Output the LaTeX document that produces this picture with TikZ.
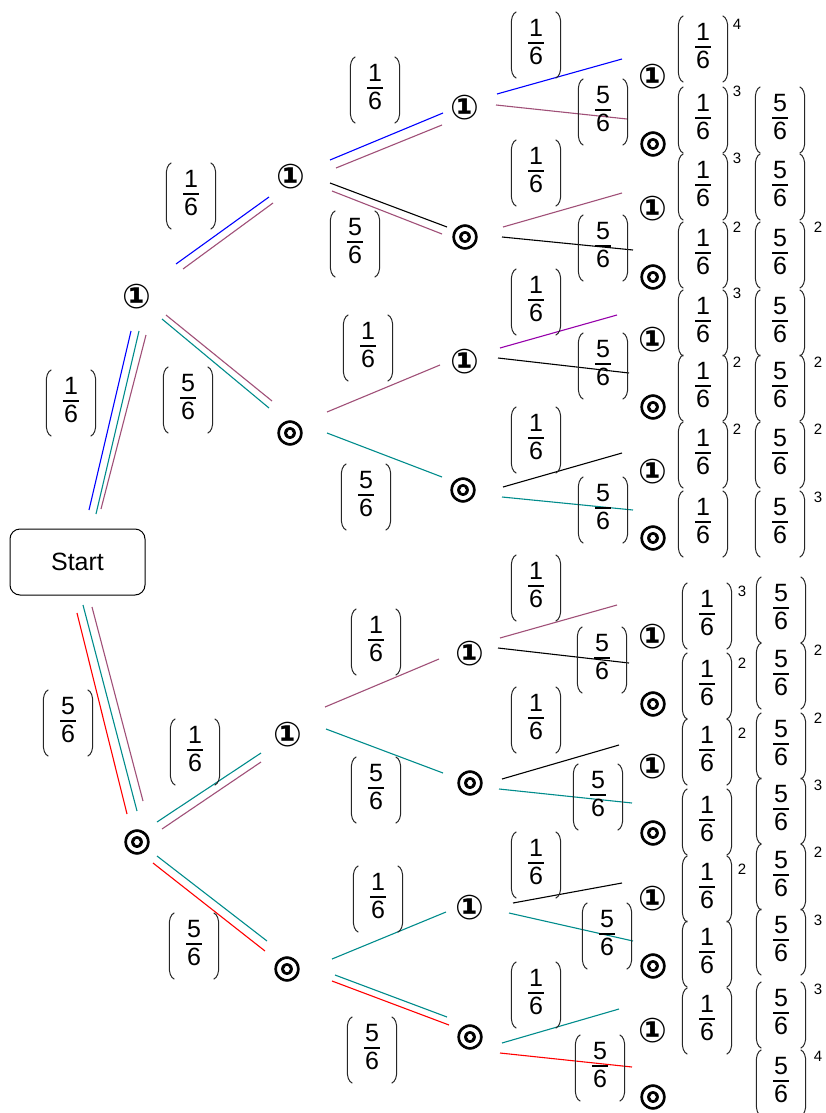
\documentclass[tikz,border=0pt]{standalone}
\usepackage{fontspec}
\setmainfont{Liberation Sans}
\newfontfamily\symfont{DejaVu Sans}
\newfontfamily\ringfont{DejaVu Sans}[FakeBold=2.5]
\usetikzlibrary{calc}
\definecolor{cteal}{RGB}{0,140,140}
\definecolor{cmauve}{RGB}{160,80,120}
\definecolor{cpurple}{RGB}{150,0,170}
\definecolor{cblue}{RGB}{0,0,255}
\definecolor{cred}{RGB}{255,0,0}
\setlength{\arrayrulewidth}{1.2pt}
\newcommand\myfr[2]{\begin{tabular}{@{\kern1pt}c@{\kern1pt}}#1\\[-3pt]\hline\noalign{\vskip1pt}#2\end{tabular}}
\newcommand\one{{\symfont\bfseries ①}}
\newcommand\ring{{\ringfont\fontsize{32}{36}\selectfont ◎}}
\tikzset{
 fracbox/.style={inner sep=0pt, minimum width=49pt, minimum height=66pt, font=\fontsize{25}{29}\selectfont},
 paren/.style={line width=1pt, black!85},
 sym/.style={inner sep=0pt, font=\fontsize{34}{38}\selectfont},
 supnum/.style={inner sep=0pt, font=\fontsize{15}{17}\selectfont},
 edge/.style={line width=1.1pt},
 startbox/.style={draw, rounded corners=10pt, line width=1pt, minimum width=135pt, minimum height=66pt, font=\fontsize{25}{30}\selectfont}
}
\newcommand\plab[4]{%
 \node[fracbox] (#1) at (#2,#3) {\myfr{#4}{6}};
 \draw[paren] ($(#1.north west)+(5,0)$) .. controls ($(#1.north west)+(1,2)$) and ($(#1.north west)+(0,7)$) .. ($(#1.north west)+(0,12)$) -- ($(#1.south west)+(0,-12)$) .. controls ($(#1.south west)+(0,-7)$) and ($(#1.south west)+(1,-2)$) .. ($(#1.south west)+(5,0)$);
 \draw[paren] ($(#1.north east)+(-5,0)$) .. controls ($(#1.north east)+(-1,2)$) and ($(#1.north east)+(0,7)$) .. ($(#1.north east)+(0,12)$) -- ($(#1.south east)+(0,-12)$) .. controls ($(#1.south east)+(0,-7)$) and ($(#1.south east)+(-1,-2)$) .. ($(#1.south east)+(-5,0)$);
}
\newcommand\seg[4]{\coordinate (#2a) at (#3); \coordinate (#2b) at (#4); \draw[edge,#1] (#2a) -- (#2b);}
\begin{document}
\begin{tikzpicture}[x=1pt,y=-1pt]
\useasboundingbox[fill=white] (0,0) rectangle (825,1113);
% start
\node[startbox] (start) at (77.5,562) {Start};
% tree nodes
\node[sym] (n1) at (137,297) {\one};
\node[sym] (n2) at (137,842) {\ring};
\node[sym] (n11) at (291,177) {\one};
\node[sym] (n12) at (290,433) {\ring};
\node[sym] (n21) at (288,735) {\one};
\node[sym] (n22) at (287,969) {\ring};
\node[sym] (nA) at (465,108) {\one};
\node[sym] (nB) at (465,237) {\ring};
\node[sym] (nC) at (465,362) {\one};
\node[sym] (nD) at (463,490) {\ring};
\node[sym] (nE) at (470,654) {\one};
\node[sym] (nF) at (470,783) {\ring};
\node[sym] (nG) at (470,908) {\one};
\node[sym] (nH) at (470,1037) {\ring};
\foreach \yy [count=\i] in {77,144,209,277,340,407,472,538,637,704,767,833,899,966,1031,1097}
 {\node[sym] (leaf\i) at (653,\yy) {\ifodd\i \one\else \ring\fi};}
% connectors
\seg{cblue}{e1}{89,510}{131,331}
\seg{cteal}{e2}{96,514}{139,331}
\seg{cmauve}{e3}{101,509}{146,335}
\seg{cred}{e4}{77,613}{127,814}
\seg{cteal}{e5}{83,605}{137,811}
\seg{cmauve}{e6}{92,607}{143,801}
\seg{cblue}{e7}{176,264}{269,197}
\seg{cmauve}{e8}{183,269}{273,203}
\seg{cmauve}{e9}{166,315}{272,401}
\seg{cteal}{e10}{162,319}{269,408}
\seg{cblue}{e11}{330,160}{443,113}
\seg{cmauve}{e12}{336,168}{442,125}
\seg{black}{e13}{330,183}{447,227}
\seg{cmauve}{e14}{332,191}{442,234}
\seg{cmauve}{e15}{327,412}{440,365}
\seg{cteal}{e16}{327,433}{442,477}
\seg{cblue}{e17}{497,94}{622,59}
\seg{cmauve}{e18}{496,105}{627,119}
\seg{cmauve}{e19}{503,227}{622,193}
\seg{black}{e20}{502,237}{633,250}
\seg{cpurple}{e21}{500,348}{617,315}
\seg{black}{e22}{498,358}{629,373}
\seg{black}{e23}{503,487}{622,453}
\seg{cteal}{e24}{502,497}{633,510}
\seg{cteal}{e25}{157,822}{261,753}
\seg{cmauve}{e26}{162,829}{261,762}
\seg{cteal}{e27}{157,856}{267,941}
\seg{cred}{e28}{153,863}{265,951}
\seg{cmauve}{e29}{325,707}{439,659}
\seg{cteal}{e30}{326,729}{443,773}
\seg{cteal}{e31}{332,959}{446,912}
\seg{cteal}{e32}{335,975}{447,1017}
\seg{cred}{e33}{332,981}{449,1025}
\seg{cmauve}{e34}{500,638}{617,605}
\seg{black}{e35}{498,648}{629,663}
\seg{black}{e36}{502,779}{619,745}
\seg{cteal}{e37}{499,789}{632,803}
\seg{black}{e38}{513,903}{622,883}
\seg{cteal}{e39}{509,913}{633,941}
\seg{cteal}{e40}{502,1043}{619,1009}
\seg{cred}{e41}{500,1053}{632,1067}
% branch labels
\foreach \n/\x/\y/\a in {L1/71/403/1, L2/188/400/5, L3/68/723/5, L4/191/196/1,
 L5/375/90/1, L6/355/244/5, L7/368/348/1, L8/366/497/5,
 L9/536/45/1, L10/603/112/5, L11/536/173/1, L12/603/248/5,
 L13/536/302/1, L14/603/366/5, L15/536/440/1, L16/603/510/5,
 L17/195/752/1, L18/194/946/5, L19/376/642/1, L20/376/790/5,
 L21/378/899/1, L22/372/1050/5, L23/536/588/1, L24/602/660/5,
 L25/536/720/1, L26/598/797/5, L27/536/865/1, L28/607/936/5,
 L29/536/995/1, L30/600/1068/5}
 {\plab{\n}{\x}{\y}{\a}}
% result columns
\foreach \n/\x/\y/\a in {P1/703/49/1, P2/703/120/1, P3/703/187/1, P4/703/255/1,
 P5/703/323/1, P6/703/388/1, P7/703/455/1, P8/703/524/1,
 P9/707/616/1, P10/707/686/1, P11/707/752/1, P12/707/822/1,
 P13/707/889/1, P14/707/954/1, P15/707/1021/1,
 Q2/780/120/5, Q3/780/187/5, Q4/780/255/5, Q5/780/323/5,
 Q6/780/388/5, Q7/780/455/5, Q8/780/524/5,
 Q9/781/610/5, Q10/781/676/5, Q11/781/746/5, Q12/781/811/5,
 Q13/781/877/5, Q14/781/942/5, Q15/781/1015/5, Q16/781/1083/5}
 {\plab{\n}{\x}{\y}{\a}}
% exponents
\foreach \n/\x/\y/\t in {s1/737/24/4, s2/737/91/3, s3/737/158/3, s4/737/227/2,
 s5/737/293/3, s6/737/362/2, s7/737/429/2,
 t4/818/227/2, t6/818/362/2, t7/818/429/2, t8/818/497/3,
 s9/742/591/3, s10/742/663/2, s11/742/733/2, s13/742/869/2,
 t10/818/650/2, t11/818/718/2, t12/818/785/3, t13/818/852/2,
 t14/818/920/3, t15/818/989/3, t16/818/1056/4}
 {\node[supnum] (\n) at (\x,\y) {\t};}
\end{tikzpicture}
\end{document}
